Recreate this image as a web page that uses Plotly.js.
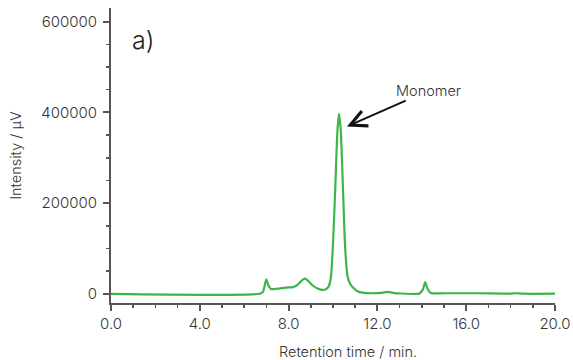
<!DOCTYPE html>
<html>
<head>
<meta charset="utf-8">
<script src="https://cdn.plot.ly/plotly-3.0.1.min.js"></script>
<style>html,body{margin:0;padding:0;background:#fff;}#chart{width:573px;height:360px;}</style>
</head>
<body>
<div id="chart"></div>
<script>
const retentionTime = [0, 6.7, 6.85, 6.95, 7.0, 7.08, 7.2, 7.5, 7.8, 8.0, 8.2, 8.4, 8.6, 8.75, 8.9, 9.1, 9.3, 9.5, 9.65, 9.8, 9.9, 10.0, 10.1, 10.2, 10.27, 10.35, 10.45, 10.55, 10.65, 10.75, 10.9, 11.1, 11.4, 11.8, 12.2, 12.45, 12.7, 13.0, 13.9, 14.05, 14.15, 14.25, 14.4, 15.0, 16.5, 18.0, 18.3, 18.5, 20];
const intensity = [0, 500, 5000, 25000, 32000, 20000, 11000, 11500, 13500, 14500, 15000, 20000, 30000, 33500, 28000, 18000, 12000, 9000, 9500, 16000, 35000, 110000, 230000, 360000, 397000, 360000, 230000, 100000, 40000, 24000, 14000, 6000, 2500, 1500, 2500, 4500, 2500, 1000, 1000, 10000, 26000, 12000, 2000, 1500, 1500, 800, 1500, 500, 500];
const xTickVals = [0, 4, 8, 12, 16, 20];
const yTickVals = [0, 200000, 400000, 600000];
const xTitle = "Retention time / min.";
const yTitle = "Intensity / µV";
const panelLabel = "a)";
const peakLabel = "Monomer";
const peakX = 10.63, peakY = 369000;
const labelX = 14.3, labelY = 448000;

const font = "Inter, Lato, sans-serif";
const trace = {
  x: retentionTime, y: intensity, type: 'scatter', mode: 'lines',
  line: {color: '#3db54a', width: 2.2, shape: 'spline', smoothing: 0.6},
  hoverinfo: 'skip'
};
const layout = {
  width: 573, height: 360,
  margin: {l: 111, r: 18, t: 8, b: 57},
  paper_bgcolor: '#fff', plot_bgcolor: '#fff',
  showlegend: false,
  font: {family: font, color: '#333', size: 15, weight: 300},
  xaxis: {
    range: [0, 20], tickvals: xTickVals, tickformat: '.1f',
    showline: true, linecolor: '#555', linewidth: 2,
    ticks: 'outside', ticklen: 6, tickwidth: 2, tickcolor: '#555',
    tickfont: {family: font, size: 15, color: '#333', weight: 300},
    minor: {dtick: 1, ticks: 'outside', ticklen: 3, tickwidth: 1.5, tickcolor: '#555', showgrid: false},
    showgrid: false, zeroline: false
  },
  yaxis: {
    range: [-20000, 630000], tickvals: yTickVals, tickformat: 'd',
    showline: true, linecolor: '#555', linewidth: 2,
    ticks: 'outside', ticklen: 6, tickwidth: 2, tickcolor: '#555', ticklabelstandoff: 3,
    tickfont: {family: font, size: 15, color: '#333', weight: 300},
    minor: {dtick: 50000, ticks: 'outside', ticklen: 3, tickwidth: 1.5, tickcolor: '#555', showgrid: false},
    showgrid: false, zeroline: false,
    title: {text: yTitle, font: {family: font, size: 14.5, color: '#333', weight: 300}, standoff: 16}
  },
  annotations: [
    {xref: 'paper', yref: 'paper', x: 0.534, y: -0.163, text: xTitle, showarrow: false,
     font: {size: 14.5, color: '#333', family: font, weight: 300}, xanchor: 'center', yanchor: 'middle'},
    {xref: 'paper', yref: 'paper', x: 0.072, y: 0.89, text: panelLabel, showarrow: false,
     font: {size: 25, color: '#222', family: font, weight: 300}, xanchor: 'center', yanchor: 'middle'},
    {x: peakX, y: peakY, xref: 'x', yref: 'y', ax: labelX, ay: labelY, axref: 'x', ayref: 'y',
     text: peakLabel, showarrow: true, arrowhead: 5, arrowsize: 1.6, arrowwidth: 2, arrowcolor: '#111',
     font: {size: 14.5, color: '#333', family: font, weight: 300}, standoff: 0}
  ]
};
Plotly.newPlot('chart', [trace], layout, {staticPlot: true, displayModeBar: false});
</script>
</body>
</html>
